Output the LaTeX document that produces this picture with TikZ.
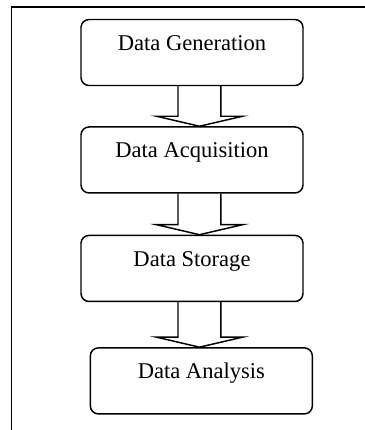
\documentclass[tikz,border=0pt]{standalone}
\usepackage{fontspec}
\setmainfont{Liberation Serif}
\usetikzlibrary{positioning, calc}

\tikzset{
  stage/.style={draw, rounded corners=6pt, line width=1.1pt, minimum width=166.5pt, minimum height=49.5pt,
    text height=12pt, text depth=15pt, font=\fontsize{16.9}{20}\selectfont},
  fatarrow/.style={draw, line width=1.1pt, line join=miter}
}
% hollow block arrow from the bottom of #1 to the top of #2
\newcommand{\flowarrow}[2]{%
  \draw[fatarrow] let \p1=(#1.south), \p2=(#2.north) in
    (\x1-10.5pt,\y1) -- (\x1-10.5pt,\y2+7.5pt) -- (\x1-26.6pt,\y2+7.5pt) -- (\x1+5.6pt,\y2)
    -- (\x1+37.9pt,\y2+7.5pt) -- (\x1+21.7pt,\y2+7.5pt) -- (\x1+21.7pt,\y1);
}

\begin{document}
\begin{tikzpicture}[x=0.75pt, y=-0.75pt]
  \useasboundingbox (0,0) rectangle (365,430);
  \draw[line width=1pt] (11.5,430) -- (11.5,7) -- (365,7);

  \node[stage] (gen) at (192,52.5) {Data Generation};
  \node[stage, below=30pt of gen] (acq) {Data Acquisition};
  \node[stage, below=30.75pt of acq] (store) {Data Storage};
  \node[stage, below=33.75pt of store, xshift=7pt] (anal) {Data Analysis};

  \flowarrow{gen}{acq}
  \flowarrow{acq}{store}
  \flowarrow{store}{anal}
\end{tikzpicture}
\end{document}
